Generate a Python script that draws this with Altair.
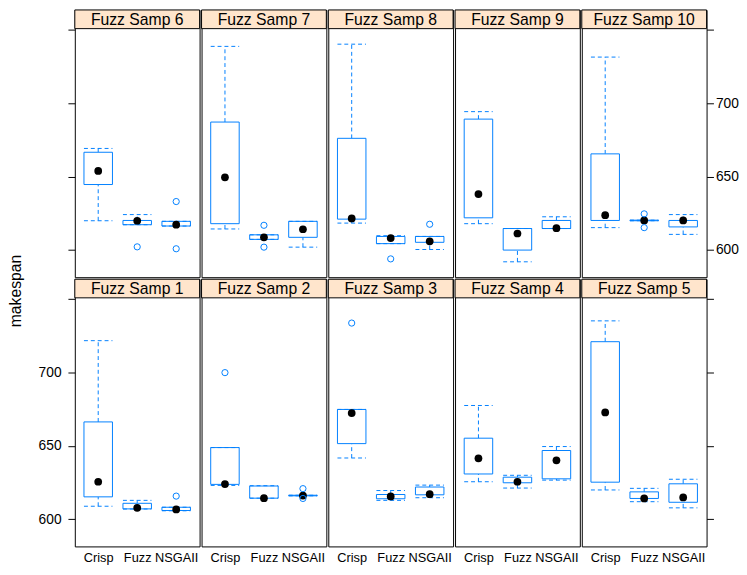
import altair as alt
import pandas as pd

sample_names = ["Fuzz Samp 1", "Fuzz Samp 2", "Fuzz Samp 3", "Fuzz Samp 4", "Fuzz Samp 5",
                "Fuzz Samp 6", "Fuzz Samp 7", "Fuzz Samp 8", "Fuzz Samp 9", "Fuzz Samp 10"]
methods = ["Crisp", "Fuzz", "NSGAII"]
y_ticks = [600, 650, 700, 750]

# box statistics per sample (1..10)
crisp_low  = [608.9, 623.1, 641.8, 625.6, 620.0, 620.0, 614.4, 618.4, 618.0, 615.3]
crisp_q1   = [615.3, 623.8, 651.6, 630.9, 625.3, 644.7, 618.0, 621.1, 622.0, 620.2]
crisp_med  = [625.6, 624.0, 672.4, 641.6, 672.9, 654.0, 649.6, 621.6, 638.2, 623.8]
crisp_q3   = [666.4, 648.9, 674.9, 655.3, 721.1, 666.7, 687.3, 676.2, 689.3, 665.6]
crisp_high = [721.8, 648.9, 674.9, 677.6, 735.3, 669.3, 738.9, 740.4, 694.4, 731.6]

fuzz_low  = [607.0, 614.4, 612.9, 621.3, 612.0, 617.3, 607.3, 604.4, 592.0, 620.0]
fuzz_q1   = [607.1, 614.4, 614.0, 624.9, 614.2, 617.3, 607.3, 604.4, 600.0, 620.0]
fuzz_med  = [607.8, 614.4, 615.6, 625.6, 614.2, 620.0, 608.7, 608.2, 611.3, 620.2]
fuzz_q3   = [610.9, 622.7, 616.9, 628.7, 618.7, 620.2, 610.4, 609.3, 614.7, 620.4]
fuzz_high = [612.9, 622.9, 619.6, 630.0, 621.1, 624.2, 610.4, 609.8, 614.7, 620.4]

nsga_low  = [605.8, 616.0, 614.7, 626.7, 607.8, 616.4, 602.0, 600.4, 614.7, 610.7]
nsga_q1   = [606.0, 616.0, 616.7, 627.6, 611.6, 616.4, 608.7, 605.3, 614.7, 615.8]
nsga_med  = [606.7, 616.2, 617.1, 640.2, 614.9, 617.3, 614.2, 606.0, 614.9, 620.2]
nsga_q3   = [608.2, 616.4, 622.0, 646.9, 624.2, 619.6, 619.6, 609.3, 620.2, 620.2]
nsga_high = [608.2, 616.4, 623.3, 649.6, 627.3, 619.6, 619.6, 609.3, 622.7, 624.2]

out_sample = [1, 2, 2, 2, 3, 6, 6, 6, 7, 7, 8, 8, 10, 10]
out_method = ["NSGAII", "Crisp", "NSGAII", "NSGAII", "Crisp", "Fuzz", "NSGAII", "NSGAII",
              "Fuzz", "Fuzz", "Fuzz", "NSGAII", "Fuzz", "Fuzz"]
out_value  = [615.8, 700.0, 620.9, 614.2, 733.8, 602.2, 633.1, 600.9,
              616.9, 602.0, 594.0, 617.6, 624.7, 615.3]

BLUE = "#0080ff"
PEACH = "#ffe5cc"
FONT = "Liberation Sans"
W, H_STRIP, H_PLOT = 127, 19, 253
Y_MIN, Y_MAX = 581.5, 751.0
Y_TOP = Y_MAX + (Y_MAX - Y_MIN) * H_STRIP / H_PLOT

rows = []
series = [("Crisp", crisp_low, crisp_q1, crisp_med, crisp_q3, crisp_high),
          ("Fuzz", fuzz_low, fuzz_q1, fuzz_med, fuzz_q3, fuzz_high),
          ("NSGAII", nsga_low, nsga_q1, nsga_med, nsga_q3, nsga_high)]
for i, s in enumerate(sample_names):
    for m, lo, q1, md, q3, hi in series:
        rows.append(dict(sample=s, method=m, low=lo[i], q1=q1[i], med=md[i], q3=q3[i], high=hi[i]))
stats = pd.DataFrame(rows)
outliers = pd.DataFrame({"sample": [sample_names[k - 1] for k in out_sample],
                         "method": out_method, "value": out_value})


def panel(idx, row, col):
    name = sample_names[idx]
    xs = alt.Scale(type="point", domain=methods, padding=0.6)
    if row == 1:
        xaxis = alt.Axis(orient="bottom", ticks=False, domain=False, labelPadding=5, labelAngle=0,
                         labelFontSize=13, labelFont=FONT, labelColor="black", grid=False)
    else:
        xaxis = None
    ys = alt.Scale(domain=[Y_MIN, Y_TOP], nice=False, zero=False)
    common = dict(values=y_ticks, tickSize=7, tickColor="black", domain=False, grid=False,
                  labelFontSize=14, labelFont=FONT, labelColor="black",
                  labelExpr="datum.value == 750 ? '' : datum.label")
    if col == 0:
        yaxis = alt.Axis(orient="left", labelPadding=7, labelOpacity=1 if row == 1 else 0, **common)
    elif col == 4:
        yaxis = alt.Axis(orient="right", labelPadding=2, labelOpacity=1 if row == 0 else 0, **common)
    else:
        yaxis = None
    X = alt.X("method:N", scale=xs, axis=xaxis, title=None)

    def Y(f):
        return alt.Y(f"{f}:Q", scale=ys, axis=yaxis, title=None)

    base = alt.Chart(stats).transform_filter(alt.datum.sample == name)
    strip_df = pd.DataFrame({"label": [name]})
    strip_bg = alt.Chart(strip_df).mark_rect(fill=PEACH, stroke="black", strokeWidth=1).encode(
        x=alt.value(0), x2=alt.value(W), y=alt.value(0), y2=alt.value(H_STRIP))
    strip_tx = alt.Chart(strip_df).mark_text(font=FONT, fontSize=16, color="black",
                                             baseline="middle", align="center").encode(
        text="label:N", x=alt.value(W / 2), y=alt.value(H_STRIP / 2 + 1))
    dash = [4, 3]
    lo_wh = base.mark_rule(color=BLUE, strokeDash=dash).encode(x=X, y=Y("low"), y2="q1:Q")
    hi_wh = base.mark_rule(color=BLUE, strokeDash=dash).encode(x=X, y=Y("q3"), y2="high:Q")
    box = base.mark_bar(size=29, fill="white", stroke=BLUE, strokeWidth=1).encode(
        x=X, y=Y("q1"), y2="q3:Q")
    cap_hi = base.mark_rule(color=BLUE, strokeDash=dash, xOffset=-14.5, x2Offset=14.5).encode(
        x=X, x2=alt.X2(field="method"), y=Y("high"))
    cap_lo = base.mark_rule(color=BLUE, strokeDash=dash, xOffset=-14.5, x2Offset=14.5).encode(
        x=X, x2=alt.X2(field="method"), y=Y("low"))
    med = base.mark_circle(size=62, color="black", opacity=1).encode(x=X, y=Y("med"))
    outl = alt.Chart(outliers).transform_filter(alt.datum.sample == name).mark_point(
        shape="circle", filled=False, size=40, color=BLUE, strokeWidth=1, opacity=1).encode(
        x=X, y=Y("value"))
    return alt.layer(strip_bg, strip_tx, lo_wh, hi_wh, box, cap_hi, cap_lo, med, outl).properties(
        width=W, height=H_STRIP + H_PLOT)


top = alt.hconcat(*[panel(5 + c, 0, c) for c in range(5)], spacing=0)
bottom = alt.hconcat(*[panel(c, 1, c) for c in range(5)], spacing=0)
grid = alt.vconcat(top, bottom, spacing=0)

label = alt.Chart(pd.DataFrame({"t": ["makespan"]})).mark_text(
    angle=270, font=FONT, fontSize=16, color="black", baseline="middle", align="center").encode(
    text="t:N", x=alt.value(8), y=alt.value(286)).properties(
    width=30, height=2 * (H_STRIP + H_PLOT), view=alt.ViewBackground(strokeOpacity=0))

chart = alt.hconcat(label, grid, spacing=0).properties(
    padding={"left": 0, "top": -4, "right": 0, "bottom": 0}
).configure_view(stroke="black", strokeWidth=1)

chart.save("out.html", embed_options={"renderer": "svg", "actions": False})
